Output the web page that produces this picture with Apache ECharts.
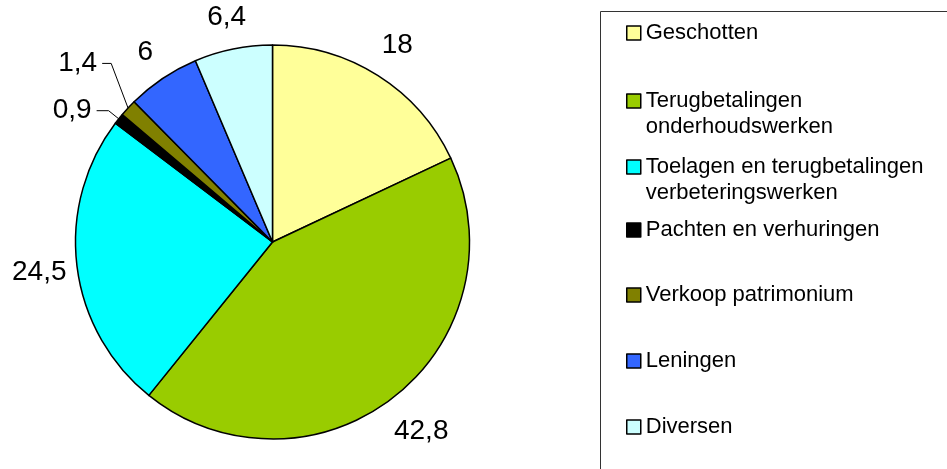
<!DOCTYPE html>
<html>
<head>
<meta charset="utf-8">
<title>Ontvangsten</title>
<script src="https://cdn.jsdelivr.net/npm/echarts@6/dist/echarts.min.js"></script>
<style>
html, body { margin: 0; padding: 0; background: #fff; }
#chart { width: 947px; height: 469px; }
</style>
</head>
<body>
<div id="chart"></div>
<script>
// gegevens
var categories = ['Geschotten', 'Terugbetalingen onderhoudswerken', 'Toelagen en terugbetalingen verbeteringswerken',
  'Pachten en verhuringen', 'Verkoop patrimonium', 'Leningen', 'Diversen'];
var values = [18, 42.8, 24.5, 0.9, 1.4, 6, 6.4];
var legendLabels = ['Geschotten', 'Terugbetalingen\nonderhoudswerken', 'Toelagen en terugbetalingen\nverbeteringswerken',
  'Pachten en verhuringen', 'Verkoop patrimonium', 'Leningen', 'Diversen'];
var withLeader = [false, false, false, true, true, false, false];

window.onload = function() {
  var FONT = '"Liberation Sans", Arial, sans-serif';
  var PIE_X = 272.5, PIE_Y = 242, PIE_R = 197;
  var chart = echarts.init(document.getElementById('chart'));

  function fmt(p) {
    return String(p.value).replace('.', ',');
  }

  // legenda: een component per item, zodat de afstanden vrij te kiezen zijn
  var legendCenters = [33, 101, 167, 230, 295, 361, 427];
  var lineH = 26;
  var legends = categories.map(function(name, i) {
    var twoLines = legendLabels[i].indexOf('\n') >= 0;
    return {
      orient: 'vertical',
      left: 626,
      top: legendCenters[i] - (twoLines ? lineH * 1.5 : lineH / 2),
      padding: 0,
      icon: 'rect',
      itemWidth: 14,
      itemHeight: 14,
      selectedMode: false,
      data: [name],
      // lege eerste regel: symbool staat dan naast de eerste tekstregel
      formatter: function() { return (twoLines ? '\n' : '') + legendLabels[i]; },
      itemStyle: { borderColor: '#000', borderWidth: 1.5 },
      textStyle: { fontSize: 22, fontFamily: FONT, color: '#000', lineHeight: lineH }
    };
  });

  // lengte van de verbindingslijntjes voor de kleine stukken
  var leaderLen = { 3: [13, 12], 4: [23, 9] };

  var option = {
    animation: false,
    color: ['#FFFF99', '#99CC00', '#00FFFF', '#000000', '#808000', '#3366FF', '#CCFFFF'],
    legend: legends,
    graphic: [{
      type: 'rect', silent: true,
      shape: { x: 600.5, y: 11.5, width: 400, height: 500 },
      style: { fill: 'none', stroke: '#333', lineWidth: 1 }
    }],
    series: [{
      type: 'pie',
      center: [PIE_X, PIE_Y],
      radius: PIE_R,
      startAngle: 90,
      clockwise: true,
      avoidLabelOverlap: false,
      itemStyle: { borderColor: '#000', borderWidth: 1.5 },
      label: { position: 'outside', fontSize: 28, fontFamily: FONT, color: '#000', formatter: fmt },
      labelLine: { lineStyle: { color: '#000', width: 1 } },
      labelLayout: function(p) {
        // 1,4 hoger zetten, lijntje meeschuiven
        if (p.dataIndex !== 4 || !p.labelLinePoints) return;
        var pts = p.labelLinePoints, s = -29;
        return {
          dy: s,
          labelLinePoints: [pts[0], [pts[1][0], pts[1][1] + s], [pts[2][0], pts[2][1] + s]]
        };
      },
      emphasis: { disabled: true },
      data: categories.map(function(name, i) {
        var len = leaderLen[i] || [15, 10];
        return {
          name: name,
          value: values[i],
          label: { show: withLeader[i] },
          labelLine: { show: withLeader[i], length: len[0], length2: len[1] }
        };
      })
    }, {
      // onzichtbare ring die de overige waarden buiten de taart zet
      type: 'pie',
      center: [PIE_X, PIE_Y],
      radius: [218, 244],
      startAngle: 90,
      clockwise: true,
      silent: true,
      avoidLabelOverlap: false,
      itemStyle: { color: 'rgba(0,0,0,0)', borderWidth: 0 },
      label: { position: 'inside', fontSize: 28, fontFamily: FONT, color: '#000', formatter: fmt },
      labelLine: { show: false },
      labelLayout: function(p) {
        // tekstvak op vaste afstand van de rand, niet buiten de grafiek
        var r = p.labelRect;
        var ux = r.x + r.width / 2 - PIE_X, uy = r.y + r.height / 2 - PIE_Y;
        var d = Math.sqrt(ux * ux + uy * uy);
        ux /= d; uy /= d;
        var target = PIE_R + 19 + Math.abs(ux) * r.width / 2 + Math.abs(uy) * 10;
        var dx = ux * (target - d), dy = uy * (target - d);
        if (r.x + dx < 12) dx = 12 - r.x;
        return { dx: dx, dy: dy };
      },
      emphasis: { disabled: true },
      data: categories.map(function(name, i) {
        return { name: name, value: values[i], label: { show: !withLeader[i] } };
      })
    }]
  };
  chart.setOption(option);
};
</script>
</body>
</html>
